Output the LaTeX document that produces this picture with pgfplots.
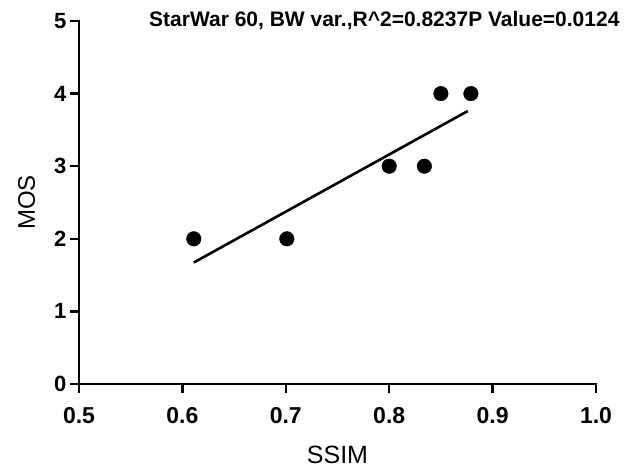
\documentclass[border=0pt]{standalone}
\usepackage{pgfplots}
\pgfplotsset{compat=1.18}
\usepackage{fontspec}
\setmainfont{Liberation Sans}
\begin{document}
\begin{tikzpicture}
\useasboundingbox (-79pt,-88pt) rectangle (556pt,384pt);
\begin{axis}[
  scale only axis,
  width=517pt, height=363pt,
  xmin=0.5, xmax=1.0, ymin=0, ymax=5,
  axis x line*=bottom, axis y line*=left,
  axis line style={-, line width=2.4pt, line cap=rect},
  xtick={0.5,0.6,0.7,0.8,0.9,1.0},
  ytick={0,1,2,3,4,5},
  tick align=outside,
  major tick length=9pt,
  tick style={line width=2.4pt, black},
  /pgf/number format/assume math mode=true,
  xticklabel style={/pgf/number format/fixed, /pgf/number format/fixed zerofill, /pgf/number format/precision=1, font=\fontsize{23}{27}\selectfont\bfseries, yshift=-11pt},
  yticklabel style={font=\fontsize{22}{26}\selectfont\bfseries},
  xlabel={SSIM}, ylabel={MOS},
  xlabel style={at={(axis description cs:0.5,0)}, anchor=base, yshift=-79pt, font=\fontsize{25}{29}\selectfont},
  ylabel style={at={([xshift=-44pt]axis description cs:0,0.5)}, anchor=base, font=\fontsize{24}{28}\selectfont},
  title={StarWar 60, BW var.,R\textasciicircum 2=0.8237P Value=0.0124},
  title style={at={(axis description cs:0,1)}, anchor=base west, xshift=70pt, yshift=-11pt, inner sep=0pt, font=\fontsize{21}{25}\selectfont\bfseries},
  clip=false,
]
\addplot[only marks, mark=*, mark size=7.3pt, black] coordinates {
  (0.611,2) (0.701,2) (0.800,3) (0.834,3) (0.850,4) (0.879,4)
};
\addplot[black, line width=2.6pt] coordinates {
  (0.611,1.673) (0.876,3.760)
};
\end{axis}
\end{tikzpicture}
\end{document}
